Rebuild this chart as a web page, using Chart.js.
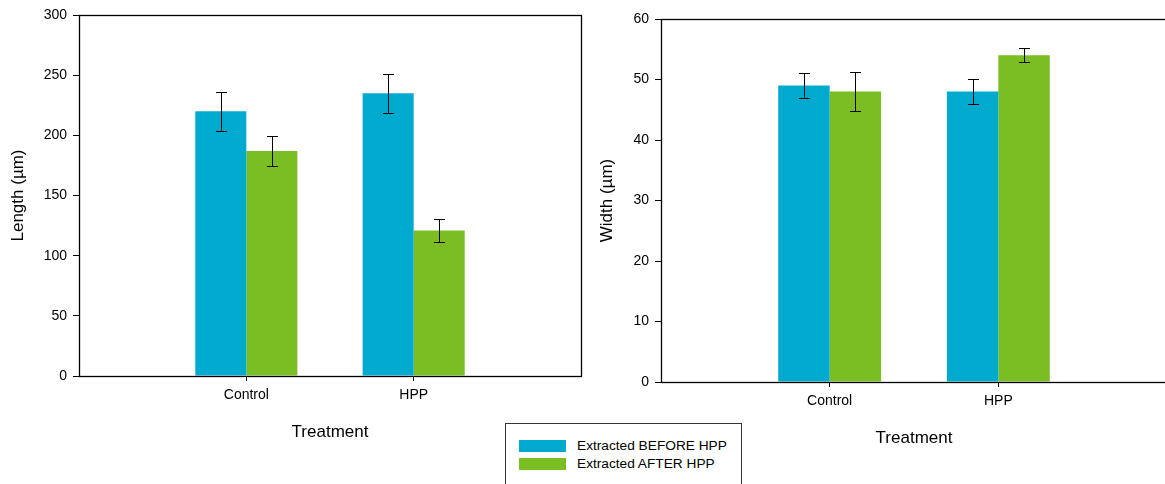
<!DOCTYPE html>
<html>
<head>
<meta charset="utf-8">
<title>Fibre length and width by treatment</title>
<script src="https://cdn.jsdelivr.net/npm/chart.js@4/dist/chart.umd.min.js"></script>
<style>
  html, body { margin: 0; padding: 0; background: #fff; }
  #wrap { position: relative; width: 1165px; height: 484px; overflow: hidden; background: #fff; }
  .panel { position: absolute; top: 0; }
  #legend {
    position: absolute; left: 505px; top: 423px; width: 237px; height: 80px;
    border: 1px solid #333; box-sizing: border-box; background: #fff;
    font-family: "Liberation Sans", Arial, sans-serif; font-size: 13.7px; color: #000;
  }
  .item { position: absolute; left: 13px; height: 12px; }
  .sw { position: absolute; left: 0; top: 0; width: 47px; height: 12px; }
  .lbl { position: absolute; left: 58px; top: -2px; line-height: 16px; white-space: nowrap; }
</style>
</head>
<body>
<div id="wrap">
  <canvas id="lengthChart" class="panel" width="600" height="447" style="left:0px;width:600px;height:447px"></canvas>
  <canvas id="widthChart" class="panel" width="600" height="453" style="left:582px;width:600px;height:453px"></canvas>
  <div id="legend"></div>
</div>
<script>
// Treatments and the two extraction series
const categories = ['Control', 'HPP'];
const seriesNames = ['Extracted BEFORE HPP', 'Extracted AFTER HPP'];
const seriesColors = ['#00AACE', '#7BBE23'];

// Fibre length (µm): means and standard errors
const lengthBefore = [220, 235];
const lengthAfter = [187, 121];
const lengthBeforeErr = [16, 16.2];
const lengthAfterErr = [12.6, 9.8];

// Fibre width (µm): means and standard errors
const widthBefore = [49, 48];
const widthAfter = [48, 54];
const widthBeforeErr = [2.1, 2];
const widthAfterErr = [3.2, 1.15];

// Value axis ticks
const lengthTicks = [0, 50, 100, 150, 200, 250, 300];
const widthTicks = [0, 10, 20, 30, 40, 50, 60];

const FONT = '"Liberation Sans", Arial, sans-serif';

// Empty slots either side keep the two groups at one third and two thirds of the axis
const padded = arr => [null, ...arr, null];
const axisLabels = ['', ...categories, ''];

// Draws the closed frame around the plot area and the error bars on top of the bars
const frameAndErrors = {
  id: 'frameAndErrors',
  afterDatasetsDraw(chart, args, opts) {
    const ctx = chart.ctx;
    const y = chart.scales.y;
    ctx.save();
    ctx.strokeStyle = '#000';
    ctx.lineWidth = 1;
    chart.data.datasets.forEach((ds, i) => {
      const meta = chart.getDatasetMeta(i);
      const errs = opts.errors[i];
      meta.data.forEach((bar, j) => {
        const v = ds.data[j];
        const e = errs[j];
        if (v == null || e == null) return;
        const x = Math.round(bar.x) + 0.5;
        const top = Math.round(y.getPixelForValue(v + e)) + 0.5;
        const bot = Math.round(y.getPixelForValue(v - e)) + 0.5;
        ctx.beginPath();
        ctx.moveTo(x, top); ctx.lineTo(x, bot);
        ctx.moveTo(x - 5.5, top); ctx.lineTo(x + 5.5, top);
        ctx.moveTo(x - 5.5, bot); ctx.lineTo(x + 5.5, bot);
        ctx.stroke();
      });
    });
    const a = chart.chartArea;
    ctx.lineWidth = 1.3;
    ctx.strokeStyle = '#000';
    ctx.strokeRect(Math.round(a.left) + 0.5, Math.round(a.top) + 0.5,
                   Math.round(a.right - a.left), Math.round(a.bottom - a.top));
    ctx.restore();
  }
};

function buildChart(canvasId, before, after, beforeErr, afterErr, ticks, yTitle, opt) {
  const tickStep = ticks[1] - ticks[0];
  return new Chart(document.getElementById(canvasId), {
    type: 'bar',
    data: {
      labels: axisLabels,
      datasets: [
        { label: seriesNames[0], data: padded(before), backgroundColor: seriesColors[0], borderWidth: 0 },
        { label: seriesNames[1], data: padded(after), backgroundColor: seriesColors[1], borderWidth: 0 }
      ]
    },
    options: {
      responsive: false,
      animation: false,
      devicePixelRatio: 1,
      categoryPercentage: 0.61,
      barPercentage: 1.0,
      layout: { padding: { top: opt.top, right: opt.right, left: 0, bottom: 0 } },
      plugins: {
        legend: { display: false },
        tooltip: { enabled: false },
        frameAndErrors: { errors: [padded(beforeErr), padded(afterErr)] }
      },
      scales: {
        x: {
          type: 'category',
          offset: false,
          grid: {
            offset: false,
            drawOnChartArea: false,
            drawTicks: true,
            tickLength: 5,
            tickWidth: 1,
            color: c => (c.tick && c.tick.label) ? '#000' : 'rgba(0,0,0,0)'
          },
          border: { display: false },
          ticks: { padding: 6, autoSkip: false, maxRotation: 0, color: '#000', font: { family: FONT, size: 14 } },
          title: { display: true, text: 'Treatment', color: '#000', font: { family: FONT, size: 17 }, padding: { top: 4, bottom: 4 } },
          afterFit: s => { s.height = opt.xHeight; }
        },
        y: {
          min: ticks[0],
          max: ticks[ticks.length - 1],
          grid: { drawOnChartArea: false, drawTicks: true, tickLength: 6, color: '#000' },
          border: { display: false },
          ticks: { stepSize: tickStep, padding: 6, color: '#000', font: { family: FONT, size: 14 } },
          title: { display: true, text: yTitle, color: '#000', font: { family: FONT, size: 17 }, padding: { top: opt.yTitlePad, bottom: 0 } },
          afterFit: s => { s.width = 79; }
        }
      }
    },
    plugins: [frameAndErrors]
  });
}

buildChart('lengthChart', lengthBefore, lengthAfter, lengthBeforeErr, lengthAfterErr,
           lengthTicks, 'Length (µm)', { top: 15, right: 19, xHeight: 71, yTitlePad: 8 });
buildChart('widthChart', widthBefore, widthAfter, widthBeforeErr, widthAfterErr,
           widthTicks, 'Width (µm)', { top: 19, right: 15, xHeight: 71, yTitlePad: 15 });

// Shared legend for both panels
const legend = document.getElementById('legend');
seriesNames.forEach((name, i) => {
  const item = document.createElement('div');
  item.className = 'item';
  item.style.top = (16 + i * 18) + 'px';
  const sw = document.createElement('div');
  sw.className = 'sw';
  sw.style.background = seriesColors[i];
  const lbl = document.createElement('div');
  lbl.className = 'lbl';
  lbl.textContent = name;
  item.appendChild(sw);
  item.appendChild(lbl);
  legend.appendChild(item);
});
</script>
</body>
</html>
